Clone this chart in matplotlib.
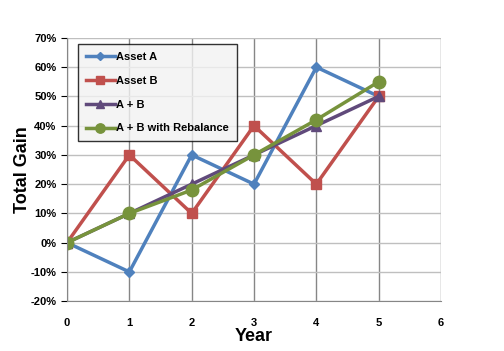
import matplotlib.pyplot as plt
from matplotlib.ticker import PercentFormatter

years = [0, 1, 2, 3, 4, 5]
asset_a = [0, -10, 30, 20, 60, 50]
asset_b = [0, 30, 10, 40, 20, 50]
a_plus_b = [0, 10, 20, 30, 40, 50]
rebalance = [0, 10, 18, 30, 42, 55]

plt.rcParams['font.family'] = ['Liberation Sans', 'DejaVu Sans']
plt.rcParams['font.weight'] = 'bold'
plt.rcParams['axes.unicode_minus'] = False

fig = plt.figure(figsize=(5.04, 3.51), dpi=100)
ax = fig.add_axes([0.133, 0.142, 0.742, 0.750])

ax.plot(years, asset_a, color='#4F81BD', lw=2.5, marker='D', ms=5, label='Asset A')
ax.plot(years, asset_b, color='#C0504D', lw=2.5, marker='s', ms=7, label='Asset B')
ax.plot(years, a_plus_b, color='#604A7B', lw=2.5, marker='^', ms=7, label='A + B')
ax.plot(years, rebalance, color='#77933C', lw=2.5, marker='o', ms=9, label='A + B with Rebalance')

ax.set_xlim(0, 6)
ax.set_ylim(-20, 70)
ax.set_xticks(range(0, 7))
ax.set_yticks(range(-20, 80, 10))
ax.yaxis.set_major_formatter(PercentFormatter(decimals=0))
ax.tick_params(labelsize=8, colors='black', length=4)
ax.tick_params(axis='x', length=0, pad=12)
for lab in ax.get_xticklabels() + ax.get_yticklabels():
    lab.set_fontweight('bold')

ax.yaxis.grid(True, color='#BFBFBF', lw=1)
ax.xaxis.grid(True, color='#868686', lw=1)
ax.set_axisbelow(True)
for s in ['top', 'right']:
    ax.spines[s].set_visible(False)
for s in ['left', 'bottom']:
    ax.spines[s].set_color('#868686')

ax.set_xlabel('Year', fontsize=13, fontweight='bold', labelpad=0)
ax.set_ylabel('Total Gain', fontsize=13, fontweight='bold', labelpad=0)

leg = ax.legend(loc='upper left', bbox_to_anchor=(0.029, 0.977), fontsize=8,
                frameon=True, fancybox=False, facecolor='#F2F2F2', edgecolor='black',
                labelspacing=1.25, handlelength=2.6, borderpad=0.7, handletextpad=0.15,
                markerscale=0.75, borderaxespad=0)
leg.get_frame().set_linewidth(1)
for t in leg.get_texts():
    t.set_fontweight('bold')

plt.savefig('out.png', dpi=100)
